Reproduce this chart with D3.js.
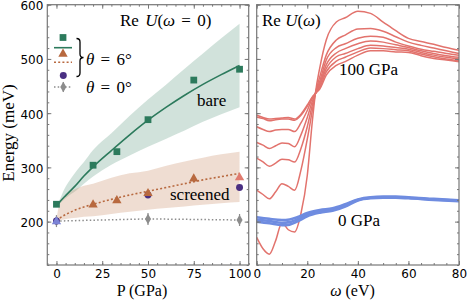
<!DOCTYPE html>
<html>
<head>
<meta charset="utf-8">
<script src="https://cdn.jsdelivr.net/npm/d3@7"></script>
<style>
  html, body { margin: 0; padding: 0; background: #fff; }
  svg { display: block; }
  .tick text { font-family: "DejaVu Sans", sans-serif; font-size: 12px; fill: #000; }
  .tick line { stroke: #777; }
  .lbl { font-family: "Liberation Serif", serif; font-size: 17px; fill: #000; }
</style>
</head>
<body>
<div id="chart"></div>
<script>
// ---- left panel data: Re U(w=0) vs pressure ----
const pBare = [0, 20, 33, 50, 75, 100];
const eBare = [232, 304, 329, 388, 461, 481];
const pScr = [0, 20, 33, 50, 75, 100];
const eScr = [201, 232, 240, 253, 280, 282];
const pCirc = [0, 50, 100];
const eCirc = [201, 249, 263];
const pZero = [0, 50, 100];
const eZero = [201, 205, 203];

// fitted curves
const pFit = [0, 2, 5, 8, 10, 15, 20, 30, 40, 50, 60, 70, 80, 90, 100];
const bareFit = [228, 237, 248, 258, 265, 284, 301, 331, 360, 387, 411, 433, 453, 471, 488];
const scrFit = [202, 207, 213, 218, 221, 227, 232, 241, 249, 256, 263, 270, 277, 283, 289];

const pBand = [0, 2, 4, 8, 11, 15, 20, 30, 40, 50, 60, 70, 80, 90, 100];
const bareHi = [228, 242, 258, 280, 294, 310, 332, 363, 395, 425, 453, 482, 510, 538, 565];
const bareLo = [228, 234, 240, 251, 258, 270, 283, 305, 322, 338, 353, 368, 384, 398, 411];
const scrHi = [203, 237, 244, 256, 261, 266, 270, 281, 289, 294, 303, 311, 318, 324, 329];
const scrLo = [202, 203, 204, 206, 207, 209, 210, 214, 218, 222, 225, 228, 231, 234, 236];

// ---- right panel data: Re U(w) ----
const omega = [0, 2.5, 5, 7.5, 10, 12.5, 15, 17.5, 20, 22, 23.2, 25, 27.5, 31.5, 35, 40, 45, 50, 55, 60, 65, 70, 75, 80];
const redCurves = [
  [171, 150, 140, 165, 198, 185, 181, 215, 285, 385, 436, 485, 535, 568, 576, 588, 584, 568, 552, 538, 532, 527, 521, 516],
  [258, 250, 242, 255, 270, 265, 258, 295, 352, 405, 436, 468, 507, 535, 544, 555, 556, 551, 541, 531, 525, 520, 515, 510],
  [317, 310, 302, 308, 315, 314, 310, 335, 375, 415, 436, 460, 498, 521, 528, 538, 542, 540, 531, 524, 518, 514, 510, 507],
  [346, 341, 335, 340, 345, 344, 338, 360, 392, 422, 436, 455, 489, 511, 519, 528, 533, 531, 526, 521, 515, 510, 506, 503],
  [375, 370, 366, 369, 370, 370, 366, 382, 405, 427, 436, 452, 482, 504, 510, 519, 525, 524, 521, 518, 512, 507, 503, 500],
  [396, 392, 389, 390, 391, 392, 389, 398, 415, 430, 436, 448, 476, 496, 503, 513, 520, 519, 517, 515, 509, 504, 500, 497],
  [393, 390, 386, 388, 389, 389, 387, 396, 413, 429, 436, 445, 470, 488, 495, 507, 515, 515, 513, 512, 506, 501, 498, 495]
];
const omegaBlue = [0, 5, 10, 13, 16, 20, 25, 30, 35, 40, 45, 50, 55, 60, 70, 80];
const blueCurves = [
  [208, 205, 203, 204, 208, 216, 221.5, 224.5, 232, 241, 245, 246, 246, 245, 242, 239.3],
  [204, 201, 198, 199, 204, 213, 219, 222, 230, 240, 244, 245, 245, 244, 241, 238.5],
  [200, 197, 193.5, 194.5, 200, 210, 216.5, 220, 228, 239, 243, 244, 244, 243, 240, 237.7]
];

const yTicks = [200, 300, 400, 500, 600];
const pTicks = [0, 25, 50, 75, 100];
const wTicks = [0, 20, 40, 60, 80];

const W = 467, H = 301;
const svg = d3.select('#chart').append('svg').attr('width', W).attr('height', H);

const yTop = 4.7, yBottom = 265;
const y = d3.scaleLinear().domain([120, 600]).range([yBottom, yTop]);
const xP = d3.scaleLinear().domain([-5, 105]).range([47.3, 248.7]);
const xW = d3.scaleLinear().domain([0, 80]).range([256.7, 459]);

const green = '#2c7a5c', orange = '#b8693f', purple = '#4a2f82', gray = '#8c8c8c';
const red = '#e2736d', blue = '#6f8ce0';

// frame with inward ticks on all four sides
function frame(x, xMaj, xMin, showYLabels) {
  const g = svg.append('g');
  const [x0, x1] = x.range();
  const yMin = d3.range(120, 601, 20);
  const axes = [
    [d3.axisBottom(x).tickValues(xMaj).tickSize(-4).tickPadding(4), `translate(0,${yBottom})`],
    [d3.axisBottom(x).tickValues(xMin).tickSize(-2).tickFormat(''), `translate(0,${yBottom})`],
    [d3.axisTop(x).tickValues(xMaj).tickSize(-4).tickFormat(''), `translate(0,${yTop})`],
    [d3.axisTop(x).tickValues(xMin).tickSize(-2).tickFormat(''), `translate(0,${yTop})`],
    [d3.axisLeft(y).tickValues(yTicks).tickSize(-4).tickPadding(4).tickFormat(showYLabels ? d3.format('d') : ''), `translate(${x0},0)`],
    [d3.axisLeft(y).tickValues(yMin).tickSize(-2).tickFormat(''), `translate(${x0},0)`],
    [d3.axisRight(y).tickValues(yTicks).tickSize(-4).tickFormat(''), `translate(${x1},0)`],
    [d3.axisRight(y).tickValues(yMin).tickSize(-2).tickFormat(''), `translate(${x1},0)`]
  ];
  axes.forEach(([ax, tr], k) => {
    const a = g.append('g').attr('transform', tr).call(ax);
    a.select('.domain').remove();
    if (k === 4) a.selectAll('text').attr('dy', '0.42em');
  });
  g.append('rect')
    .attr('x', x0).attr('y', yTop)
    .attr('width', x1 - x0).attr('height', yBottom - yTop)
    .attr('fill', 'none').attr('stroke', '#777').attr('stroke-width', 1.2);
}

// ---------- left panel ----------
const left = svg.append('g');
const area = (hi, lo) => d3.area()
  .x((d, i) => xP(pBand[i])).y0((d, i) => y(lo[i])).y1((d, i) => y(hi[i]))
  .curve(d3.curveMonotoneX)(pBand);

left.append('path').attr('d', area(bareHi, bareLo)).attr('fill', green).attr('fill-opacity', 0.22);
left.append('path').attr('d', area(scrHi, scrLo)).attr('fill', '#c98d6a').attr('fill-opacity', 0.3);

const fitLine = vals => d3.line().x((d, i) => xP(pFit[i])).y((d, i) => y(vals[i])).curve(d3.curveMonotoneX)(pFit);
left.append('path').attr('d', fitLine(bareFit)).attr('fill', 'none').attr('stroke', green).attr('stroke-width', 1.6);
left.append('path').attr('d', fitLine(scrFit)).attr('fill', 'none').attr('stroke', orange)
  .attr('stroke-width', 1.6).attr('stroke-dasharray', '2,2.2');

// theta = 0 dotted line
left.append('path')
  .attr('d', d3.line().x((d, i) => xP(pZero[i])).y((d, i) => y(eZero[i]))(pZero))
  .attr('fill', 'none').attr('stroke', gray).attr('stroke-width', 1.5).attr('stroke-dasharray', '1.5,2.2');

const sym = (type, size) => d3.symbol().type(type).size(size)();

// gray diamonds with small error bars
pZero.forEach((p, i) => {
  left.append('line').attr('x1', xP(p)).attr('x2', xP(p)).attr('y1', y(eZero[i]) - 6).attr('y2', y(eZero[i]) + 6)
    .attr('stroke', gray).attr('stroke-width', 1.2);
});
left.selectAll('.dia').data(pZero).enter().append('path')
  .attr('d', sym(d3.symbolDiamond, 32))
  .attr('transform', (d, i) => `translate(${xP(d)},${y(eZero[i])})`).attr('fill', gray);

left.selectAll('.sq').data(pBare).enter().append('path')
  .attr('d', sym(d3.symbolSquare, 46))
  .attr('transform', (d, i) => `translate(${xP(d)},${y(eBare[i])})`).attr('fill', green);

left.selectAll('.circ').data(pCirc).enter().append('path')
  .attr('d', sym(d3.symbolCircle, 38))
  .attr('transform', (d, i) => `translate(${xP(d)},${y(eCirc[i])})`).attr('fill', purple);

const triColor = p => p === 0 ? '#7b83d6' : (p === 100 ? '#e07a6e' : orange);
left.selectAll('.tri').data(pScr).enter().append('path')
  .attr('d', sym(d3.symbolTriangle, 38))
  .attr('transform', (d, i) => `translate(${xP(d)},${y(eScr[i]) + 0.5})`).attr('fill', d => triColor(d));

frame(xP, pTicks, d3.range(-5, 106, 5), true);

// legend
const lg = svg.append('g');
lg.append('path').attr('d', sym(d3.symbolSquare, 46)).attr('transform', 'translate(63,37.5)').attr('fill', green);
lg.append('line').attr('x1', 54).attr('x2', 72).attr('y1', 47.7).attr('y2', 47.7).attr('stroke', green).attr('stroke-width', 1.6);
lg.append('path').attr('d', sym(d3.symbolTriangle, 38)).attr('transform', 'translate(63,54)').attr('fill', orange);
lg.append('line').attr('x1', 54).attr('x2', 72).attr('y1', 62.3).attr('y2', 62.3).attr('stroke', orange)
  .attr('stroke-width', 1.6).attr('stroke-dasharray', '2,2.2');
lg.append('path').attr('d', sym(d3.symbolCircle, 38)).attr('transform', 'translate(63.3,75.5)').attr('fill', purple);
lg.append('line').attr('x1', 54).attr('x2', 72).attr('y1', 87).attr('y2', 87).attr('stroke', gray)
  .attr('stroke-width', 1.5).attr('stroke-dasharray', '1.5,2.2');
lg.append('line').attr('x1', 63.3).attr('x2', 63.3).attr('y1', 82).attr('y2', 92).attr('stroke', gray).attr('stroke-width', 1.2);
lg.append('path').attr('d', sym(d3.symbolDiamond, 32)).attr('transform', 'translate(63.3,87)').attr('fill', gray);
// curly brace
lg.append('path')
  .attr('d', 'M76.5,38.5 Q80,38.5 80,42 L80,54 Q80,57.5 83.5,57.5 Q80,57.5 80,61 L80,73 Q80,76.5 76.5,76.5')
  .attr('fill', 'none').attr('stroke', '#000').attr('stroke-width', 1.3);

function mathText(g, x, yy, parts) {
  const t = g.append('text').attr('class', 'lbl').attr('x', x).attr('y', yy);
  parts.forEach(([s, it]) => t.append('tspan').style('font-style', it ? 'italic' : 'normal').text(s));
  return t;
}
mathText(lg, 86, 64.5, [['θ', true], [' = 6°', false]]).style('word-spacing', '2px');
mathText(lg, 86, 93, [['θ', true], [' = 0°', false]]).style('word-spacing', '2px');

mathText(svg, 120, 26, [['Re ', false], ['U', true], ['(', false], ['ω', true], [' = 0)', false]]).style('word-spacing', '2px');
svg.append('text').attr('class', 'lbl').attr('x', 197).attr('y', 106).text('bare');
svg.append('text').attr('class', 'lbl').attr('x', 170).attr('y', 200).text('screened');

svg.append('text').attr('class', 'lbl').attr('text-anchor', 'middle')
  .attr('transform', 'translate(13.5,133) rotate(-90)').text('Energy (meV)');
svg.append('text').attr('class', 'lbl').attr('text-anchor', 'middle').attr('x', 142).attr('y', 296)
  .style('font-size', '16px').text('P (GPa)');

// ---------- right panel ----------
const right = svg.append('g');
const redLine = d3.line().x((d, i) => xW(omega[i])).y(d => y(d)).curve(d3.curveMonotoneX);
right.selectAll('.red').data(redCurves).enter().append('path')
  .attr('d', d => redLine(d)).attr('fill', 'none').attr('stroke', red).attr('stroke-width', 1.5);
const blueLine = d3.line().x((d, i) => xW(omegaBlue[i])).y(d => y(d)).curve(d3.curveMonotoneX);
right.selectAll('.blue').data(blueCurves).enter().append('path')
  .attr('d', d => blueLine(d)).attr('fill', 'none').attr('stroke', blue).attr('stroke-width', 2.6);

frame(xW, wTicks, d3.range(0, 81, 5), false);

mathText(svg, 262, 26, [['Re ', false], ['U', true], ['(', false], ['ω', true], [')', false]]);
svg.append('text').attr('class', 'lbl').attr('x', 339).attr('y', 74.5).text('100 GPa');
svg.append('text').attr('class', 'lbl').attr('x', 338).attr('y', 225.5).text('0 GPa');
mathText(svg, 352.5, 296, [['ω', true], [' (eV)', false]]).attr('text-anchor', 'middle').style('font-size', '16px');
</script>
</body>
</html>
